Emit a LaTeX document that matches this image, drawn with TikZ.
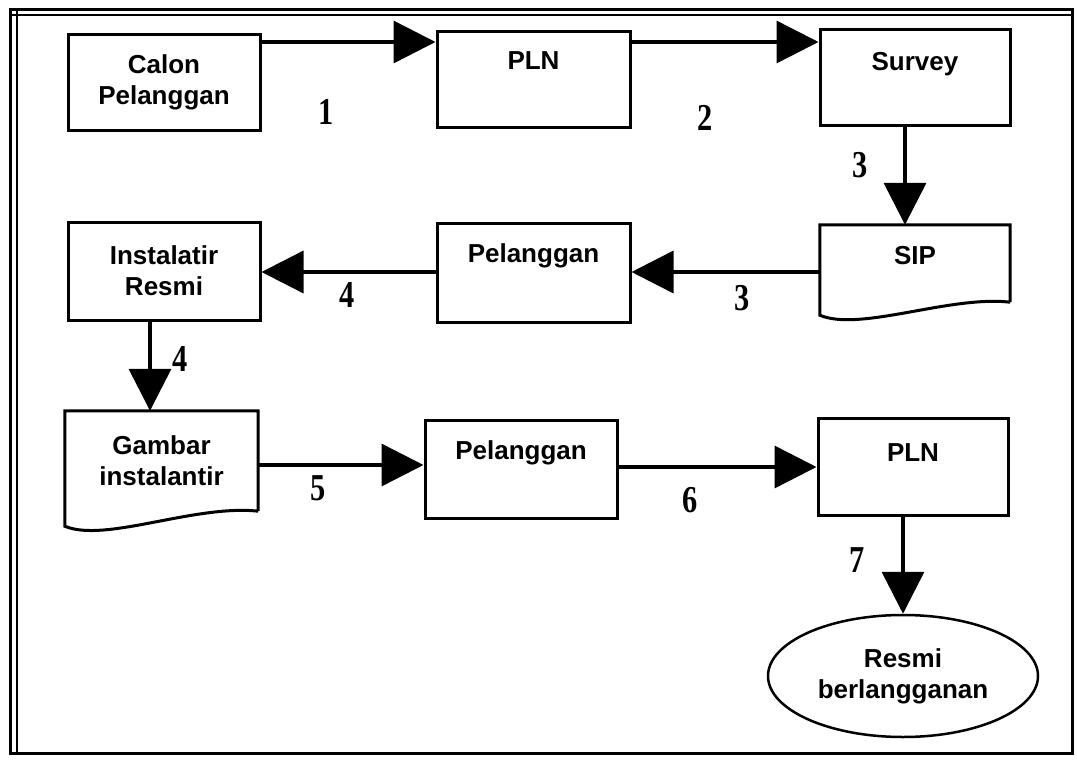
\documentclass[tikz,border=0pt]{standalone}
\usepackage{fontspec}
\setmainfont{Liberation Sans}
\newfontfamily\numfont{Liberation Serif}
\usetikzlibrary{arrows.meta,calc,shapes.geometric}
\begin{document}
\begin{tikzpicture}[x=1pt,y=-1pt,
  txt/.style={font=\fontsize{26}{31}\selectfont\bfseries, align=center},
  box/.style={txt, draw, line width=3pt, inner sep=0pt},
  uptext/.style={text height=18pt, text depth=38pt},
  docbox/.style={txt, inner sep=0pt},
  arr/.style={line width=3.5pt, -{Triangle[length=42pt,width=42pt]}},
  num/.style={font=\numfont\bfseries\fontsize{38}{38}\selectfont, inner sep=0pt}
]
\useasboundingbox (0,0) rectangle (1077,768);
\fill[white] (0,0) rectangle (1077,768);
% frame
\draw[line width=3pt] (10,10) rectangle (1072,753);
\draw[line width=2pt] (17,10) -- (17,753);
\draw[line width=2pt] (10,15) -- (1072,15);

% boxes
\node[box, minimum width=192pt, minimum height=95pt] (calon) at (164,82.5) {Calon\\Pelanggan};
\node[box, uptext, minimum width=193pt, minimum height=95pt] (pln1) at (533.5,79.5) {PLN};
\node[box, text height=18pt, text depth=32pt, minimum width=190pt, minimum height=95pt] (survey) at (915,77.5) {Survey};
\node[docbox, minimum width=190pt, minimum height=77pt, text height=18pt, text depth=16pt] (sip) at (915,263.5) {SIP};
\draw[line width=3pt, line join=miter] (sip.south east) -- (sip.north east) -- (sip.north west) -- ($(sip.south west)+(0,13)$)
  .. controls ($(sip.south west)+(40,30)$) and ($(sip.south west)+(130,-7)$) .. (sip.south east);
\node[box, uptext, minimum width=193pt, minimum height=99pt] (pel1) at (533.5,272.5) {Pelanggan};
\node[box, minimum width=192pt, minimum height=98pt] (inst) at (164,271) {Instalatir\\Resmi};
\node[docbox, minimum width=193pt, minimum height=100pt] (gambar) at (161.5,461) {Gambar\\instalantir};
\draw[line width=3pt, line join=miter] (gambar.south east) -- (gambar.north east) -- (gambar.north west) -- ($(gambar.south west)+(0,15)$)
  .. controls ($(gambar.south west)+(40,32)$) and ($(gambar.south west)+(130,-7)$) .. (gambar.south east);
\node[box, uptext, minimum width=192pt, minimum height=98pt] (pel2) at (521,469) {Pelanggan};
\node[box, text height=18pt, text depth=28pt, minimum width=190pt, minimum height=97pt] (pln2) at (913,466.5) {PLN};
\node[box, ellipse, line width=2.5pt, minimum width=270pt, minimum height=122pt] (resmi) at (903,676) {Resmi\\berlangganan};

% connectors
\draw[arr] (calon.east |- 0,42) -- (pln1.west |- 0,42);
\draw[arr] (pln1.east |- 0,42) -- (survey.west |- 0,42);
\draw[arr] (survey.south -| 905,0) -- (sip.north -| 905,0);
\draw[arr] (sip.west |- 0,272) -- (pel1.east |- 0,272);
\draw[arr] (pel1.west |- 0,272) -- (inst.east |- 0,272);
\draw[arr] (inst.south -| 150,0) -- (gambar.north -| 150,0);
\draw[arr] (gambar.east |- 0,465) -- (pel2.west |- 0,465);
\draw[arr] (pel2.east |- 0,467) -- (pln2.west |- 0,467);
\draw[arr] (pln2.south -| resmi.north) -- (resmi.north);

% numbers
\node[num] (n1) at (326,112) {\scalebox{0.8}[1]{1}};
\node[num] (n2) at (705,118) {\scalebox{0.8}[1]{2}};
\node[num] (n3a) at (860,165) {\scalebox{0.8}[1]{3}};
\node[num] (n3b) at (742,298) {\scalebox{0.8}[1]{3}};
\node[num] (n4a) at (347,295) {\scalebox{0.8}[1]{4}};
\node[num] (n4b) at (180,359) {\scalebox{0.8}[1]{4}};
\node[num] (n5) at (318,488) {\scalebox{0.8}[1]{5}};
\node[num] (n6) at (690,500) {\scalebox{0.8}[1]{6}};
\node[num] (n7) at (857,560) {\scalebox{0.8}[1]{7}};
\end{tikzpicture}
\end{document}
